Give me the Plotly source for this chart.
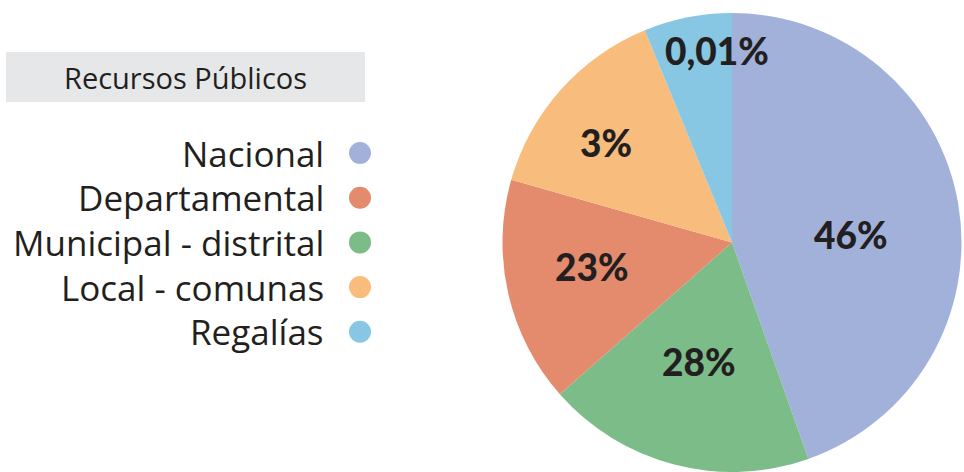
import math
import plotly.graph_objects as go

# ---- data ----
categories = ["Nacional", "Departamental", "Municipal - distrital", "Local - comunas", "Regalías"]
shares_drawn = [44.6, 15.9, 18.9, 14.4, 6.2]          # slice sizes as drawn in the picture
share_labels = ["46%", "23%", "28%", "3%", "0,01%"]   # printed labels
slice_order = [0, 2, 1, 3, 4]                          # clockwise from 12 o'clock
title_text = "Recursos Públicos"

# ---- style ----
colors = ["#A2B1D9", "#E48B6D", "#7BBC89", "#F8BC7C", "#87C7E3"]
label_r_frac = [0.52, 0.62, 0.54, 0.70, 0.84]
label_angle_nudge = [5.7, 3.0, 0.8, -3.4, 6.7]
TXT = "#231F20"
W, H = 964, 472
CX, TOP, R = 732, 13, 229.5
CY = TOP + R

fig = go.Figure()

fig.add_trace(go.Pie(
    labels=[categories[i] for i in slice_order],
    values=[shares_drawn[i] for i in slice_order],
    marker=dict(colors=[colors[i] for i in slice_order], line=dict(width=0)),
    sort=False, direction="clockwise", rotation=0,
    textinfo="none", hoverinfo="label+value", showlegend=False,
    domain=dict(x=[(CX - R) / W, (CX + R) / W], y=[0, 1 - TOP / H]),
))

# slice labels placed from cumulative shares
total = sum(shares_drawn)
cum = 0.0
for i in slice_order:
    mid = (cum + shares_drawn[i] / 2) / total * 360 + label_angle_nudge[i]
    cum += shares_drawn[i]
    r = label_r_frac[i] * R
    px = CX + r * math.sin(math.radians(mid))
    py = CY - r * math.cos(math.radians(mid))
    fig.add_annotation(x=px / W, y=1 - py / H, xref="paper", yref="paper",
                       text=share_labels[i], showarrow=False,
                       font=dict(family="Lato", size=37, color=TXT, weight=900),
                       xanchor="center", yanchor="middle")

# custom legend
LEG_TOP, LEG_STEP, LEG_TEXT_RIGHT, LEG_MARK_X = 153, 44.7, 326, 360
fig.add_trace(go.Scatter(
    x=[LEG_MARK_X] * len(categories),
    y=[LEG_TOP + k * LEG_STEP for k in range(len(categories))],
    mode="markers", marker=dict(size=22, color=colors, line=dict(width=0)),
    hoverinfo="skip", showlegend=False, xaxis="x", yaxis="y",
))
for k, name in enumerate(categories):
    fig.add_annotation(x=LEG_TEXT_RIGHT / W, y=1 - (LEG_TOP + k * LEG_STEP) / H,
                       xref="paper", yref="paper", text=name, showarrow=False,
                       xanchor="right", yanchor="middle",
                       font=dict(family="Open Sans", size=35, color=TXT))

# title box
fig.add_shape(type="rect", xref="paper", yref="paper",
              x0=6 / W, x1=365 / W, y0=1 - 102 / H, y1=1 - 52 / H,
              fillcolor="#E6E7E8", line=dict(width=0), layer="below")
fig.add_annotation(x=185 / W, y=1 - 77 / H, xref="paper", yref="paper",
                   text=title_text, showarrow=False, xanchor="center", yanchor="middle",
                   font=dict(family="Open Sans", size=29, color=TXT))

fig.update_layout(
    width=W, height=H, margin=dict(l=0, r=0, t=0, b=0),
    paper_bgcolor="white", plot_bgcolor="rgba(0,0,0,0)",
    xaxis=dict(range=[0, W], visible=False, domain=[0, 1], fixedrange=True),
    yaxis=dict(range=[H, 0], visible=False, domain=[0, 1], fixedrange=True),
    showlegend=False,
)

fig.write_html("out.html", config={"displayModeBar": False},
               post_script="document.body.style.margin='0';document.body.style.overflow='hidden';")
